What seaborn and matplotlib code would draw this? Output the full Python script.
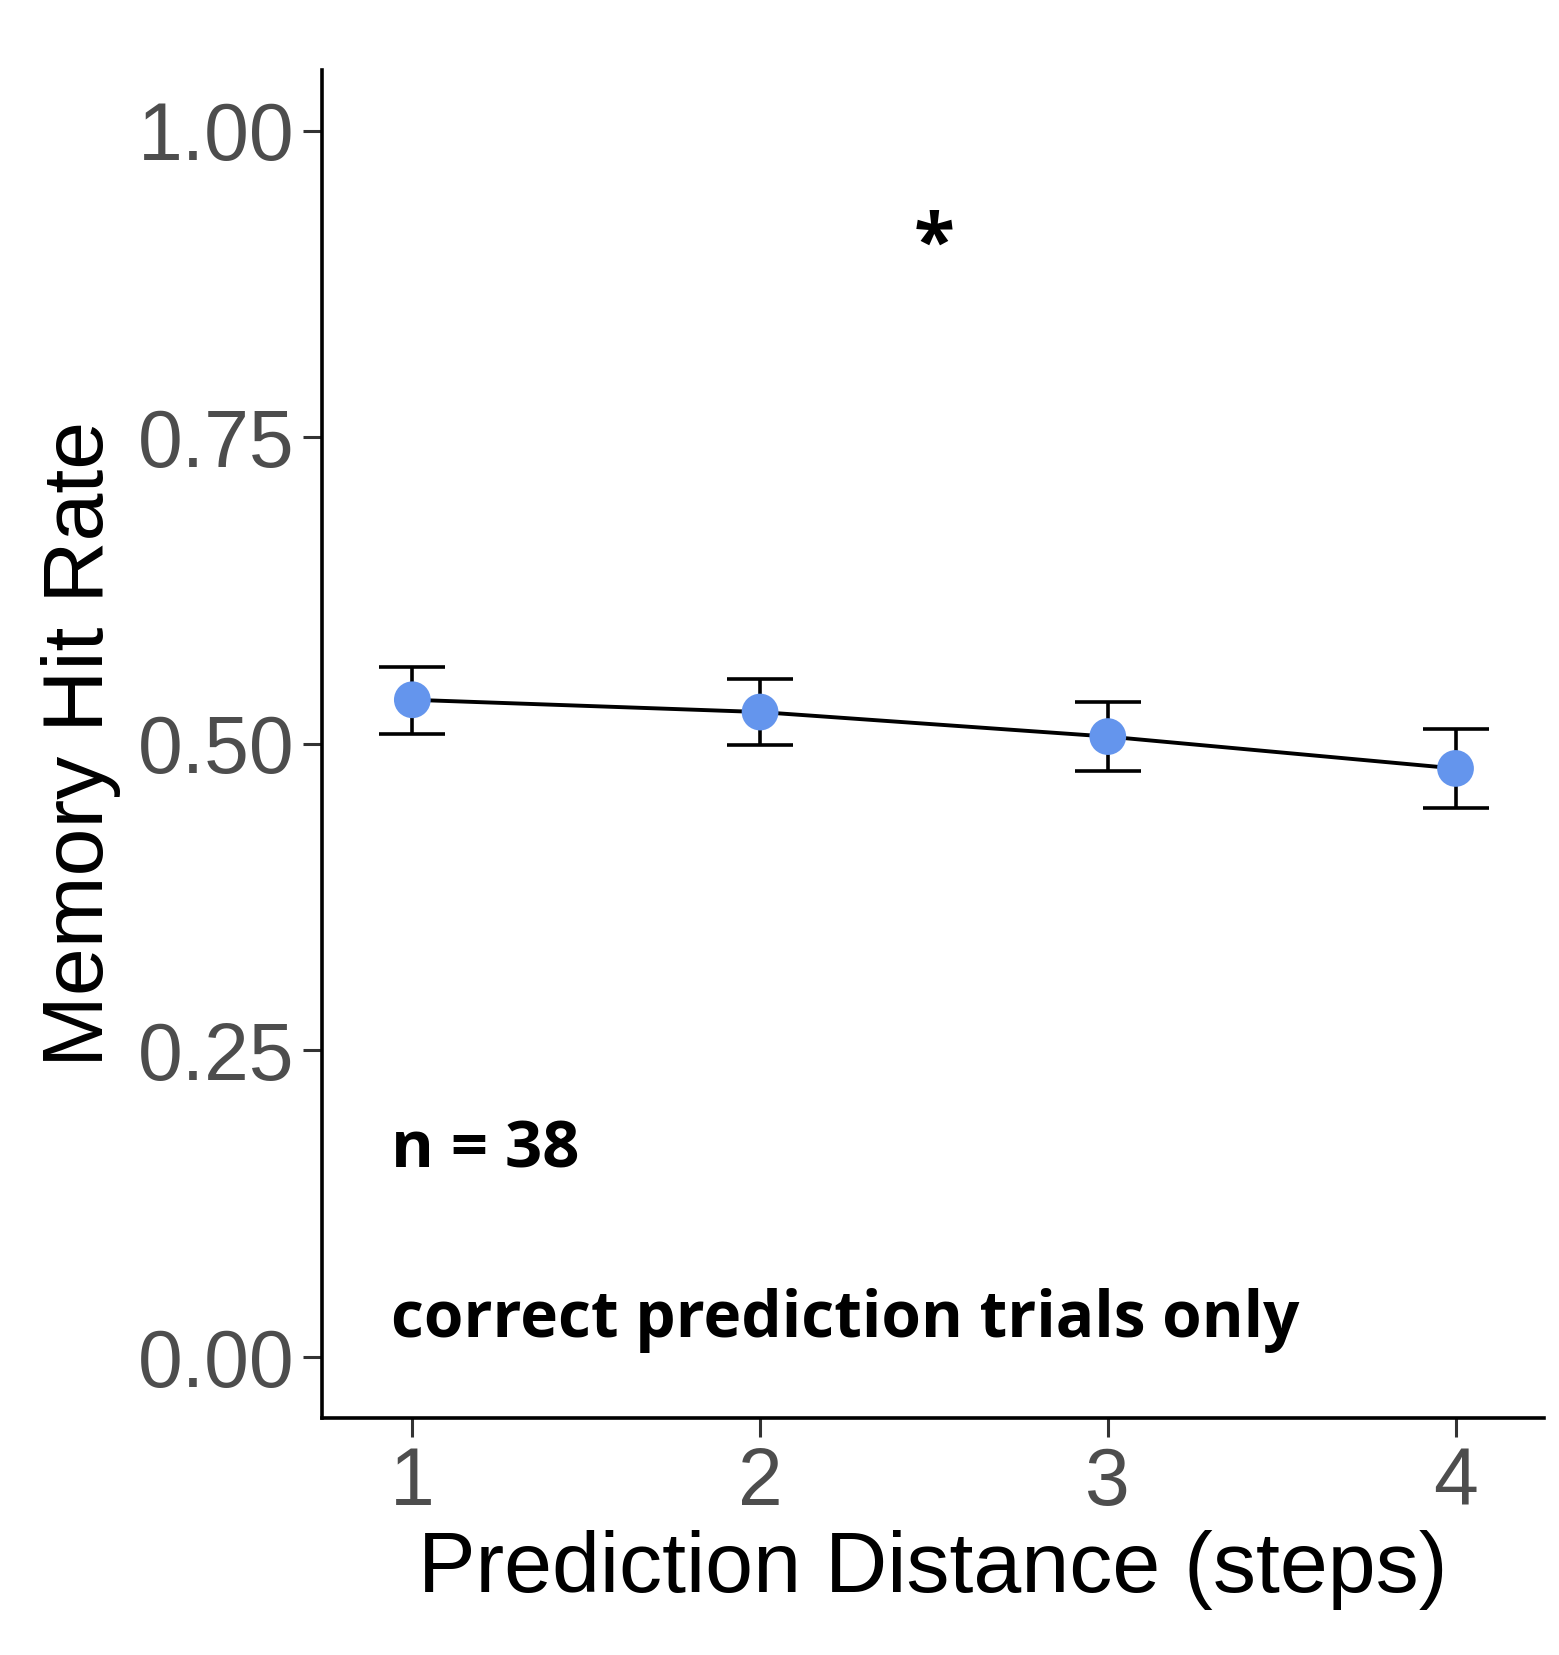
"""Memory hit rate by prediction distance (correct prediction trials only)."""

import matplotlib

matplotlib.use("Agg")
import matplotlib.pyplot as plt
import pandas as pd
import seaborn as sns

distance = [1, 2, 3, 4]
hit_rate = [0.536, 0.526, 0.506, 0.480]
se_upper = [0.563, 0.553, 0.534, 0.512]
se_lower = [0.508, 0.499, 0.478, 0.448]
y_ticks = [0.00, 0.25, 0.50, 0.75, 1.00]
y_tick_labels = ["0.00", "0.25", "0.50", "0.75", "1.00"]
x_ticks = [1, 2, 3, 4]

df = pd.DataFrame({"distance": distance, "hit_rate": hit_rate})

sns.set_theme(style="ticks")
plt.rcParams["font.family"] = ["Liberation Sans", "DejaVu Sans"]
plt.rcParams["text.color"] = "black"
plt.rcParams["axes.labelcolor"] = "black"

fig = plt.figure(figsize=(15.59, 16.55), dpi=100)
ax = fig.add_axes([0.2065, 0.143, 0.784, 0.815])

yerr = [
    [h - lo for h, lo in zip(hit_rate, se_lower)],
    [hi - h for h, hi in zip(hit_rate, se_upper)],
]
ax.errorbar(
    distance, hit_rate, yerr=yerr, fmt="none", ecolor="black",
    elinewidth=2.6, capsize=24, capthick=2.6, zorder=2,
)
sns.lineplot(data=df, x="distance", y="hit_rate", color="black", linewidth=2.8, ax=ax, zorder=3)
sns.scatterplot(
    data=df, x="distance", y="hit_rate", color="#6495ED", s=700,
    edgecolor="none", ax=ax, zorder=4,
)

annot_font = ["Open Sans", "DejaVu Sans"]
ax.text(2.5, 0.905, "*", ha="center", va="center", fontsize=54,
        fontweight="bold", family=annot_font, color="black")
ax.text(0.94, 0.168, "n = 38", ha="left", va="center", fontsize=47,
        fontweight="bold", family=annot_font, color="black")
ax.text(0.94, 0.03, "correct prediction trials only", ha="left", va="center",
        fontsize=46, fontweight="bold", family=annot_font, color="black")

ax.set_xlim(0.74, 4.255)
ax.set_ylim(-0.05, 1.05)
ax.set_xticks(x_ticks)
ax.set_xticklabels([str(x) for x in x_ticks])
ax.set_yticks(y_ticks)
ax.set_yticklabels(y_tick_labels)
ax.tick_params(axis="both", labelsize=58, labelcolor="#4D4D4D", color="#333333",
               length=14, width=2.2, pad=6)
ax.set_xlabel("Prediction Distance (steps)", fontsize=62, labelpad=6)
ax.set_ylabel("Memory Hit Rate", fontsize=62, labelpad=12)

sns.despine(ax=ax)
for side in ["left", "bottom"]:
    ax.spines[side].set_linewidth(2.6)
    ax.spines[side].set_color("black")

fig.savefig("out.png", dpi=100)
